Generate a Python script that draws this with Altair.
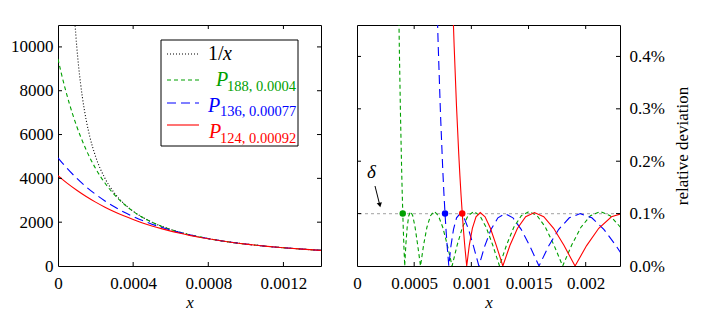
import altair as alt
import pandas as pd

# ---------------- data: left panel (values of the curves) ----------------
inv_x = [0.00009, 0.0001, 0.00011, 0.00012, 0.00013, 0.00015, 0.00017, 0.0002, 0.00025, 0.0003,
         0.00035, 0.0004, 0.0005, 0.0006, 0.0007, 0.0008, 0.0009, 0.001, 0.0011, 0.0012, 0.0013, 0.0014]
inv_y = [11111, 10000, 9091, 8333, 7692, 6667, 5882, 5000, 4000, 3333,
         2857, 2500, 2000, 1667, 1429, 1250, 1111, 1000, 909, 833, 769, 714]

g_x = [0, 0.00001, 0.00002, 0.00004, 0.00006, 0.00008, 0.0001, 0.00012, 0.00015, 0.0002, 0.00025,
       0.0003, 0.00035, 0.0004, 0.0005, 0.0006, 0.0007, 0.0008, 0.0009, 0.001, 0.0011, 0.0012, 0.0013, 0.0014]
g_y = [9451, 9072, 8712, 8039, 7429, 6874, 6369, 5910, 5299, 4454, 3787,
       3257, 2836, 2497, 2000, 1667, 1429, 1250, 1111, 1000, 909, 833, 769, 714]

b_x = [0, 0.00002, 0.00005, 0.0001, 0.00015, 0.0002, 0.00025, 0.0003, 0.00035, 0.0004, 0.00045, 0.0005,
       0.00055, 0.0006, 0.00065, 0.0007, 0.00077, 0.0008, 0.0009, 0.001, 0.0011, 0.0012, 0.0013, 0.0014]
b_y = [4938, 4732, 4441, 4001, 3613, 3271, 2969, 2702, 2466, 2258, 2073, 1910,
       1765, 1637, 1523, 1421, 1297, 1250, 1111, 1000, 909, 833, 769, 714]

r_x = [0, 0.00002, 0.00005, 0.0001, 0.00015, 0.0002, 0.00025, 0.0003, 0.00035, 0.0004, 0.00045, 0.0005,
       0.00055, 0.0006, 0.00065, 0.0007, 0.00075, 0.0008, 0.00085, 0.00092, 0.001, 0.0011, 0.0012, 0.0013, 0.0014]
r_y = [4122, 3978, 3772, 3457, 3172, 2916, 2685, 2476, 2289, 2120, 1967, 1829,
       1705, 1592, 1491, 1399, 1316, 1240, 1172, 1086, 1000, 909, 833, 769, 714]

# ---------------- data: right panel (relative deviation, in %) ----------------
g2_x = [0.00036, 0.00037, 0.00038, 0.00039, 0.000395, 0.0004,
        0.00040108, 0.00040432, 0.00040971, 0.00041727, 0.00042698, 0.00043885, 0.00045289, 0.00046908,
        0.00048742, 0.00050793, 0.0005306, 0.00055542, 0.0005824, 0.00061154, 0.00064284, 0.0006763,
        0.00071192, 0.00074969, 0.00078963, 0.00083172, 0.00087597, 0.00092238, 0.00097095, 0.00102168,
        0.00107456, 0.00112961, 0.00118681, 0.00124617, 0.00130769, 0.00137137, 0.00143721, 0.0015052,
        0.00157535, 0.00164767, 0.00172214, 0.00179877, 0.00187756, 0.00195851, 0.00204161, 0.00212688,
        0.0022143, 0.00230388]
g2_y = [0.573, 0.419, 0.292, 0.188, 0.143, 0.104,
        0.096, 0.074, 0.040, 0.0, 0.040, 0.074, 0.096, 0.104,
        0.096, 0.074, 0.040, 0.0, 0.040, 0.074, 0.096, 0.104,
        0.096, 0.074, 0.040, 0.0, 0.040, 0.074, 0.096, 0.104,
        0.096, 0.074, 0.040, 0.0, 0.040, 0.074, 0.096, 0.104,
        0.096, 0.074, 0.040, 0.0, 0.040, 0.074, 0.096, 0.104,
        0.096, 0.074]

b2_x = [0.0007, 0.00071, 0.00073, 0.00075, 0.00076, 0.00077,
        0.00077205, 0.00077822, 0.00078849, 0.00080287, 0.00082136, 0.00084395, 0.00087066, 0.00090148,
        0.0009364, 0.00097543, 0.00101857, 0.00106582, 0.00111718, 0.00117264, 0.00123222, 0.0012959,
        0.00136369, 0.00143559, 0.0015116, 0.00159172, 0.00167595, 0.00176428, 0.00185672, 0.00195327,
        0.00205393, 0.0021587, 0.00226758, 0.00238057]
b2_y = [0.498, 0.422, 0.291, 0.184, 0.139, 0.0996,
        0.092, 0.070, 0.038, 0.0, 0.038, 0.070, 0.092, 0.100,
        0.092, 0.070, 0.038, 0.0, 0.038, 0.070, 0.092, 0.100,
        0.092, 0.070, 0.038, 0.0, 0.038, 0.070, 0.092, 0.100,
        0.092, 0.070, 0.038, 0.0]

r2_x = [0.00084, 0.00085, 0.00087, 0.00089, 0.0009, 0.00091, 0.00092,
        0.00092247, 0.00092987, 0.00094221, 0.00095948, 0.00098169, 0.00100883, 0.0010409, 0.00107791,
        0.00111986, 0.00116674, 0.00121856, 0.00127531, 0.00133699, 0.00140361, 0.00147517, 0.00155165,
        0.00163308, 0.00171943, 0.00181073, 0.00190696, 0.00200812, 0.00211422, 0.00222525, 0.00234122]
r2_y = [0.481, 0.418, 0.306, 0.213, 0.172, 0.135, 0.102,
        0.094, 0.072, 0.039, 0.0, 0.039, 0.072, 0.094, 0.102,
        0.094, 0.072, 0.039, 0.0, 0.039, 0.072, 0.094, 0.102,
        0.094, 0.072, 0.039, 0.0, 0.039, 0.072, 0.094, 0.102]

dot_x = [0.0004, 0.00077, 0.00092]
dot_y = [0.1, 0.1, 0.1]
dot_c = ["g", "b", "r"]
delta_level = [0.1]

xL_ticks = [0, 0.0004, 0.0008, 0.0012]
yL_ticks = [0, 2000, 4000, 6000, 8000, 10000]
xR_ticks = [0, 0.0005, 0.001, 0.0015, 0.002]
yR_ticks = [0, 0.1, 0.2, 0.3, 0.4]

# ---------------- styling ----------------
W, H = 263, 241
FONT = "Liberation Serif"
GREEN, BLUE, RED = "#00a000", "#0000ff", "#ff0000"

xsL = alt.Scale(domain=[0, 0.0014], nice=False, zero=False)
ysL = alt.Scale(domain=[0, 11000], nice=False)
xsR = alt.Scale(domain=[0, 0.0023], nice=False, zero=False)
ysR = alt.Scale(domain=[0, 0.46], nice=False)

common = dict(labelFont=FONT, labelFontSize=17, labelColor="black", ticks=False, domain=False,
              grid=False, titleFont=FONT, titleFontSize=17, titleFontWeight="normal",
              titleColor="black", labelFlush=False)

xlab = "format(datum.value, '.4~f')"
axLx = alt.Axis(values=xL_ticks, labelExpr=xlab, title="x", titleFontStyle="italic",
                labelPadding=9, titlePadding=3, **common)
axLy = alt.Axis(values=yL_ticks, format="d", title=None, labelPadding=5, **common)
axRx = alt.Axis(values=xR_ticks, labelExpr=xlab, title="x", titleFontStyle="italic",
                labelPadding=9, titlePadding=3, **common)
axRy = alt.Axis(values=yR_ticks, orient="right", labelExpr="format(datum.value, '.1f') + '%'",
                title="relative deviation", titleAngle=270, labelPadding=9, titlePadding=27, **common)

one = pd.DataFrame({"a": [0]})


def curve(xs, ys, color, dash, xsc, ysc, axx, axy, interp):
    df = pd.DataFrame({"x": xs, "y": ys})
    kw = dict(color=color, strokeWidth=1.1, clip=True, interpolate=interp)
    if dash:
        kw["strokeDash"] = dash
    return alt.Chart(df).mark_line(**kw).encode(
        x=alt.X("x:Q", scale=xsc, axis=axx), y=alt.Y("y:Q", scale=ysc, axis=axy))


def frame_ticks(xt, yt, xsc, ysc, axx, axy, L=4):
    dx = pd.DataFrame({"x": [v for v in xt if v != 0]})
    dy = pd.DataFrame({"y": [v for v in yt if v != 0]})
    st = dict(color="black", strokeWidth=1)
    return [
        alt.Chart(dx).mark_rule(**st).encode(x=alt.X("x:Q", scale=xsc, axis=axx),
                                             y=alt.value(H), y2=alt.value(H - L)),
        alt.Chart(dx).mark_rule(**st).encode(x=alt.X("x:Q", scale=xsc, axis=axx),
                                             y=alt.value(0), y2=alt.value(L)),
        alt.Chart(dy).mark_rule(**st).encode(y=alt.Y("y:Q", scale=ysc, axis=axy),
                                             x=alt.value(0), x2=alt.value(L)),
        alt.Chart(dy).mark_rule(**st).encode(y=alt.Y("y:Q", scale=ysc, axis=axy),
                                             x=alt.value(W - L), x2=alt.value(W)),
    ]


def hline(x1, x2, y, color, dash):
    kw = dict(color=color, strokeWidth=1.1)
    if dash:
        kw["strokeDash"] = dash
    return alt.Chart(one).mark_rule(**kw).encode(x=alt.value(x1), x2=alt.value(x2), y=alt.value(y))


def txt(s, x, y, color, size, style="normal"):
    return alt.Chart(one).mark_text(text=s, align="left", baseline="alphabetic", font=FONT,
                                    fontSize=size, fontStyle=style, color=color).encode(
        x=alt.value(x), y=alt.value(y))


# ---------------- left panel ----------------
left_layers = [
    curve(inv_x, inv_y, "black", [1, 2], xsL, ysL, axLx, axLy, "monotone"),
    curve(g_x, g_y, GREEN, [4, 3], xsL, ysL, axLx, axLy, "monotone"),
    curve(b_x, b_y, BLUE, [9, 5], xsL, ysL, axLx, axLy, "monotone"),
    curve(r_x, r_y, RED, None, xsL, ysL, axLx, axLy, "monotone"),
] + frame_ticks(xL_ticks, yL_ticks, xsL, ysL, axLx, axLy)

legend = [
    alt.Chart(one).mark_rect(fill="white", stroke="black", strokeWidth=1).encode(
        x=alt.value(103), x2=alt.value(240), y=alt.value(15), y2=alt.value(121)),
    hline(109, 141, 29, "black", [1, 2]),
    hline(109, 141, 55, GREEN, [4, 3]),
    hline(109, 141, 78, BLUE, [9, 5]),
    hline(109, 141, 100, RED, None),
    txt("1/", 150, 35, "black", 20),
    txt("x", 165, 35, "black", 20, "italic"),
    txt("P", 158, 61, GREEN, 20, "italic"),
    txt("188, 0.0004", 169, 66, GREEN, 14.5),
    txt("P", 150, 87, BLUE, 20, "italic"),
    txt("136, 0.00077", 162, 91, BLUE, 14.5),
    txt("P", 151, 113, RED, 20, "italic"),
    txt("124, 0.00092", 162, 118, RED, 14.5),
]

left = alt.layer(*(left_layers + legend)).properties(width=W, height=H)

# ---------------- right panel ----------------
gray = alt.Chart(pd.DataFrame({"y": delta_level})).mark_rule(
    color="#b4b4b4", strokeDash=[3, 3], strokeWidth=1.1).encode(y=alt.Y("y:Q", scale=ysR, axis=axRy))

dots = alt.Chart(pd.DataFrame({"x": dot_x, "y": dot_y, "c": dot_c})).mark_point(
    filled=True, size=42, opacity=1).encode(
    x=alt.X("x:Q", scale=xsR, axis=axRx), y=alt.Y("y:Q", scale=ysR, axis=axRy),
    color=alt.Color("c:N", scale=alt.Scale(domain=["g", "b", "r"], range=[GREEN, BLUE, RED]), legend=None))

delta_txt = txt("δ", 10, 153, "black", 19, "italic")
arrow_line = alt.Chart(one).mark_rule(color="black", strokeWidth=1).encode(
    x=alt.value(18), x2=alt.value(22.5), y=alt.value(161), y2=alt.value(179))
arrow_head = alt.Chart(one).mark_point(shape="triangle-down", filled=True, size=28, color="black",
                                       opacity=1, angle=347).encode(x=alt.value(22.8), y=alt.value(180))

right_layers = [
    gray,
    curve(g2_x, g2_y, GREEN, [4, 3], xsR, ysR, axRx, axRy, "linear"),
    curve(b2_x, b2_y, BLUE, [9, 5], xsR, ysR, axRx, axRy, "linear"),
    curve(r2_x, r2_y, RED, None, xsR, ysR, axRx, axRy, "linear"),
    dots, delta_txt, arrow_line, arrow_head,
] + frame_ticks(xR_ticks, yR_ticks, xsR, ysR, axRx, axRy)

right = alt.layer(*right_layers).properties(width=W, height=H)

chart = alt.hconcat(left, right, spacing=36, bounds="flush").properties(
    padding={"left": 2, "top": 16, "right": 0, "bottom": 0}
).configure_view(stroke="black", strokeWidth=1)

chart.save("out.html", embed_options={"renderer": "svg", "actions": False})
